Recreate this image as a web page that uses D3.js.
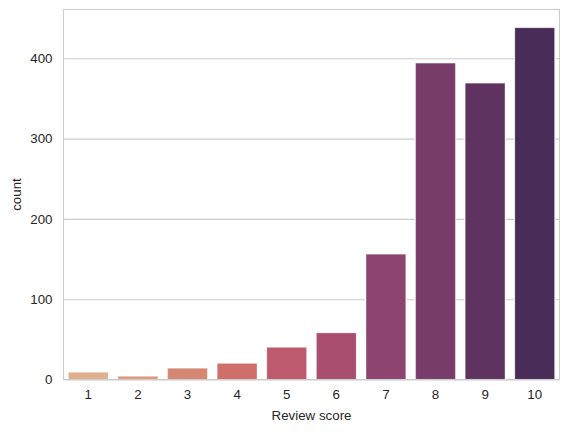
<!DOCTYPE html>
<html>
<head>
<meta charset="utf-8">
<script src="https://d3js.org/d3.v7.min.js"></script>
<style>
  html, body { margin: 0; padding: 0; background: #fff; }
  svg { display: block; }
  text { font-family: "Liberation Sans", Arial, sans-serif; fill: #262626; }
</style>
</head>
<body>
<div id="chart"></div>
<script>
const scores = ['1', '2', '3', '4', '5', '6', '7', '8', '9', '10']
const counts = [9, 4, 14, 20, 40, 58, 156, 394, 369, 438]
const yTicks = [0, 100, 200, 300, 400]
const palette = ['#e0b08c', '#dd9b7c', '#d58772', '#cf6e6b', '#bd5a6d', '#a94e6f', '#8d4570', '#773c6a', '#5f3360', '#4a2c58']

const width = 568
const height = 432
const margin = {top: 9.5, right: 8.5, bottom: 52.5, left: 63.5}
const innerW = width - margin.left - margin.right
const innerH = height - margin.top - margin.bottom
const fontSize = 13.33

const svg = d3.select('#chart').append('svg')
    .attr('width', width)
    .attr('height', height)

const g = svg.append('g')
    .attr('transform', 'translate(' + margin.left + ',' + margin.top + ')')

const x = d3.scaleBand().domain(scores).range([0, innerW]).paddingInner(0.2).paddingOuter(0.1)
const y = d3.scaleLinear().domain([0, 460.8]).range([innerH, 0])

// grid goes under the bars
const yAxis = g.append('g')
    .call(d3.axisLeft(y).tickValues(yTicks).tickSize(-innerW).tickPadding(11))
yAxis.select('.domain').remove()
yAxis.selectAll('line').attr('stroke', '#cccccc').attr('stroke-width', 1.1)
yAxis.selectAll('text').attr('font-size', fontSize).style('font-family', null)

const xAxis = g.append('g')
    .attr('transform', 'translate(0,' + innerH + ')')
    .call(d3.axisBottom(x).tickSize(0).tickPadding(10))
xAxis.select('.domain').remove()
xAxis.selectAll('text').attr('font-size', fontSize)

// white halo breaks the gridlines next to each bar
g.selectAll('.halo')
    .data(scores)
    .join('rect')
    .attr('class', 'halo')
    .attr('x', d => x(d) - 1)
    .attr('width', x.bandwidth() + 2)
    .attr('y', (d, i) => y(counts[i]) - 1)
    .attr('height', (d, i) => innerH - y(counts[i]) + 1)
    .attr('fill', '#fff')

g.selectAll('.bar')
    .data(scores)
    .join('rect')
    .attr('class', 'bar')
    .attr('x', d => x(d))
    .attr('width', x.bandwidth())
    .attr('y', (d, i) => y(counts[i]))
    .attr('height', (d, i) => innerH - y(counts[i]))
    .attr('fill', (d, i) => palette[i])
    .attr('stroke', 'rgba(255,255,255,0.25)')
    .attr('stroke-width', 1)

g.append('rect')
    .attr('width', innerW)
    .attr('height', innerH)
    .attr('fill', 'none')
    .attr('stroke', '#cccccc')
    .attr('stroke-width', 1.1)

svg.append('text')
    .attr('x', margin.left + innerW / 2)
    .attr('y', 420)
    .attr('text-anchor', 'middle')
    .attr('font-size', fontSize)
    .text('Review score')

svg.append('text')
    .attr('transform', 'translate(21,' + (margin.top + innerH / 2) + ') rotate(-90)')
    .attr('text-anchor', 'middle')
    .attr('font-size', fontSize)
    .text('count')
</script>
</body>
</html>
